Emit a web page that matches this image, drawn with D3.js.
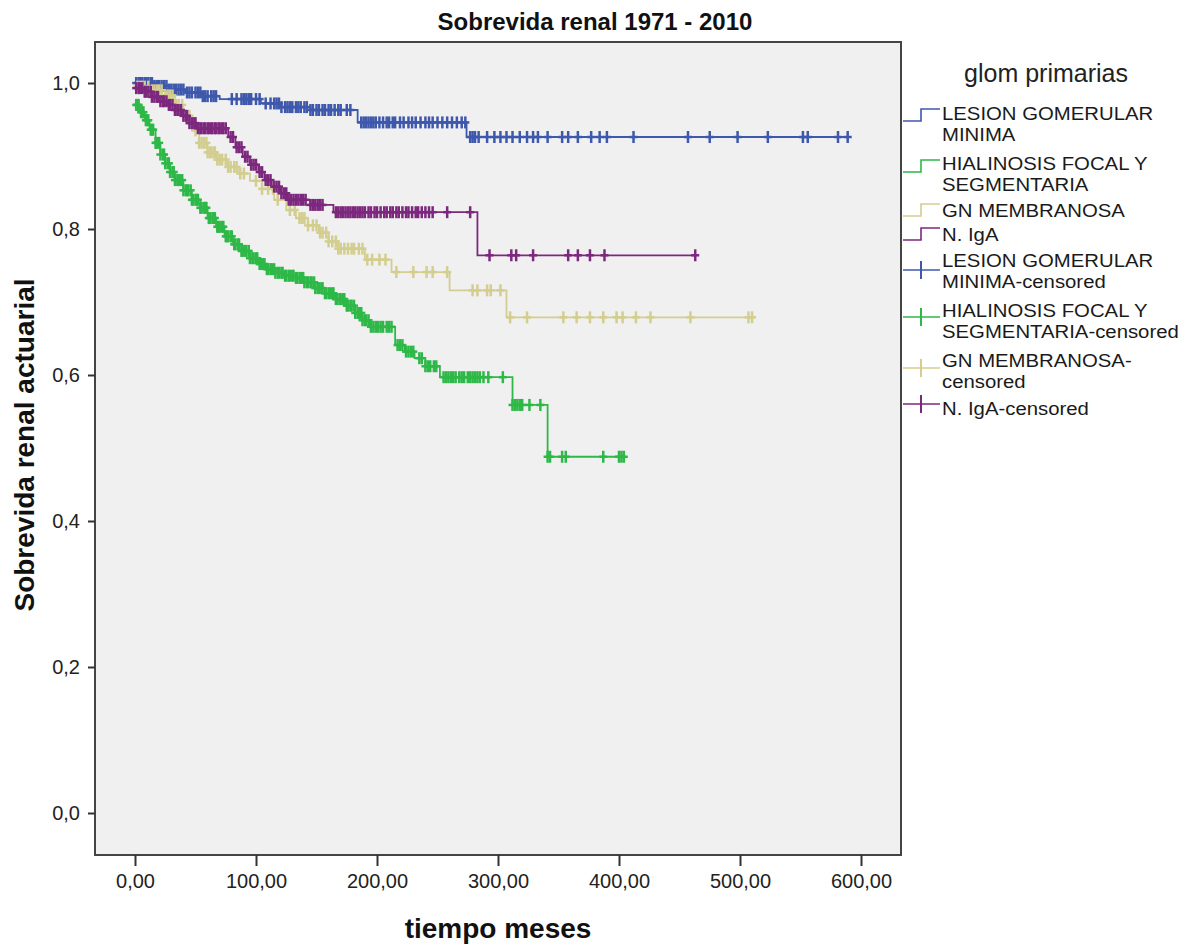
<!DOCTYPE html>
<html><head><meta charset="utf-8">
<script src="https://cdn.jsdelivr.net/npm/d3@7"></script>
<style>
html,body{margin:0;padding:0;background:#fff;}
svg text{font-family:Arial,"Liberation Sans",sans-serif;}
</style></head>
<body>
<script>
// ---------- DATA ----------
const chartTitle = "Sobrevida renal 1971 - 2010";
const xTitle = "tiempo meses";
const yTitle = "Sobrevida renal actuarial";
const legendTitle = "glom primarias";
const xTicks = [0,100,200,300,400,500,600];
const yTicks = [0,0.2,0.4,0.6,0.8,1.0];
const groups = ["LESION GOMERULAR MINIMA","HIALINOSIS FOCAL Y SEGMENTARIA","GN MEMBRANOSA","N. IgA"];
const groupColors = ["#3E58AC","#2EB848","#D3CE90","#7C287D"];

// [time, survival] after each event
const stepsLesion = [[0,1.0],[15,0.996],[28,0.991],[42,0.987],[55,0.982],[70,0.978],[104,0.972],[120,0.967],[145,0.963],[184,0.946],[274,0.926]];
const stepsHialinosis = [[0,0.970],[4,0.960],[8,0.949],[12,0.936],[17,0.918],[21,0.902],[25,0.890],[29,0.878],[33,0.867],[40,0.853],[47,0.840],[54,0.829],[60,0.815],[67,0.803],[74,0.790],[81,0.779],[88,0.770],[95,0.760],[102,0.752],[108,0.745],[116,0.740],[124,0.736],[132,0.733],[140,0.727],[149,0.719],[157,0.712],[165,0.704],[174,0.695],[182,0.685],[188,0.675],[194,0.666],[215,0.641],[223,0.632],[231,0.623],[240,0.612],[252,0.597],[312,0.559],[341,0.488]];
const stepsMembranosa = [[0,0.995],[12,0.990],[25,0.983],[33,0.970],[40,0.955],[47,0.935],[53,0.918],[60,0.905],[68,0.895],[76,0.885],[85,0.876],[95,0.866],[105,0.855],[115,0.840],[125,0.826],[133,0.815],[143,0.805],[152,0.795],[160,0.783],[168,0.773],[190,0.758],[212,0.741],[260,0.716],[307,0.679]];
const stepsIgA = [[0,0.993],[8,0.988],[14,0.981],[21,0.975],[27,0.970],[33,0.963],[39,0.955],[45,0.945],[51,0.938],[77,0.926],[83,0.912],[89,0.899],[95,0.888],[102,0.878],[107,0.867],[113,0.858],[120,0.849],[126,0.840],[145,0.833],[164,0.823],[283,0.764]];

// censored times
const censLesion = [1,3,4,6,8,9,11,13,14,16,18,20,22,24,26,28,30,32,34,36,38,40,43,45,47,50,52,54,56,58,60,63,65,67,80,84,88,90,92,94,96,100,103,108,112,115,117,119,121,124,126,128,130,133,135,137,140,142,145,147,150,152,155,157,160,162,165,168,170,175,178,187,189,191,193,195,197,199,202,205,208,210,213,215,219,222,226,229,232,236,240,243,246,250,254,258,262,266,270,273,277,279,281,284,291,297,302,307,312,318,324,329,333,341,353,358,366,377,384,390,412,457,475,498,523,552,556,581,589];
const censHialinosis = [1,2,3,5,6,7,9,10,11,13,14,15,17,18,20,21,23,24,25,27,28,29,31,32,33,35,36,37,39,40,42,43,44,46,47,48,50,51,52,54,55,57,58,59,61,62,64,65,66,68,69,70,72,73,75,76,77,79,80,82,83,85,86,88,89,91,92,94,95,97,98,100,101,103,104,106,107,109,110,112,113,115,116,118,119,121,122,124,125,127,128,130,131,133,134,136,137,139,140,142,143,145,146,148,149,151,152,154,155,157,158,160,161,163,164,166,167,169,170,172,173,175,176,178,179,181,182,184,185,187,188,190,191,193,195,197,199,201,203,205,208,210,212,217,219,221,224,226,228,230,235,237,240,242,244,247,249,255,257,259,261,263,265,268,270,272,275,277,279,281,283,285,288,292,304,312,314,316,318,320,326,335,341,343,353,356,387,400,402,404];
const censMembranosa = [2,4,6,8,11,14,16,18,20,22,25,27,29,31,34,36,39,42,45,50,53,55,57,59,60,62,63,65,66,68,70,72,75,77,79,82,84,87,90,100,105,110,114,118,128,132,136,138,140,143,147,150,153,155,158,160,163,166,168,170,173,176,179,181,185,188,192,196,202,207,216,230,241,246,258,279,283,291,294,302,310,324,354,365,376,387,398,403,414,426,459,507,510];
const censIgA = [1,3,4,6,8,9,11,13,14,16,18,19,21,23,24,26,28,29,31,33,35,36,38,40,42,43,45,47,49,50,52,54,55,57,58,60,61,63,64,66,67,69,70,72,73,75,79,81,84,86,88,91,93,96,98,100,103,105,108,110,112,115,117,119,121,123,125,127,129,131,133,135,137,139,141,145,147,149,151,153,155,166,168,170,172,174,176,178,180,182,184,186,188,190,193,195,198,200,203,206,208,211,213,216,218,221,224,226,229,232,234,237,240,243,246,258,277,293,311,315,329,358,366,376,388,463];

const legendLabels = [
  ["LESION GOMERULAR","MINIMA"],
  ["HIALINOSIS FOCAL Y","SEGMENTARIA"],
  ["GN MEMBRANOSA"],
  ["N. IgA"],
  ["LESION GOMERULAR","MINIMA-censored"],
  ["HIALINOSIS FOCAL Y","SEGMENTARIA-censored"],
  ["GN MEMBRANOSA-","censored"],
  ["N. IgA-censored"]
];

// ---------- LAYOUT ----------
const W = 1201, H = 945;
const frame = {left:95, right:901, top:42, bottom:855};
const svg = d3.select("body").append("svg").attr("width",W).attr("height",H);

const x = d3.scaleLinear().domain([0,600]).range([135,861]);
const y = d3.scaleLinear().domain([0,1]).range([813,83]);

svg.append("rect").attr("x",frame.left).attr("y",frame.top)
  .attr("width",frame.right-frame.left).attr("height",frame.bottom-frame.top)
  .attr("fill","#F0F0F0").attr("stroke","#444").attr("stroke-width",2);

// axes
const yAxis = d3.axisLeft(y).tickValues(yTicks).tickSize(7).tickPadding(8)
  .tickFormat(d=>d3.format(".1f")(d).replace(".",","));
const gy = svg.append("g").attr("transform",`translate(${frame.left},0)`).call(yAxis);
gy.select(".domain").remove();
gy.selectAll(".tick line").attr("stroke","#333").attr("stroke-width",2);
gy.selectAll(".tick text").attr("font-size",20).attr("fill","#222").attr("font-family","Arial, 'Liberation Sans', sans-serif");

const xAxis = d3.axisBottom(x).tickValues(xTicks).tickSize(11).tickPadding(8)
  .tickFormat(d=>d3.format(".2f")(d).replace(".",","));
const gx = svg.append("g").attr("transform",`translate(0,${frame.bottom})`).call(xAxis);
gx.select(".domain").remove();
gx.selectAll(".tick line").attr("stroke","#333").attr("stroke-width",2);
gx.selectAll(".tick text").attr("font-size",20).attr("fill","#222").attr("font-family","Arial, 'Liberation Sans', sans-serif");

// titles
svg.append("text").attr("x",595).attr("y",30).attr("text-anchor","middle")
  .attr("font-size",24).attr("font-weight","bold").attr("fill","#111").text(chartTitle);
svg.append("text").attr("x",498).attr("y",938).attr("text-anchor","middle")
  .attr("font-size",28).attr("font-weight","bold").attr("fill","#111").text(xTitle);
svg.append("text").attr("transform","translate(34,445) rotate(-90)").attr("text-anchor","middle")
  .attr("font-size",28).attr("font-weight","bold").attr("fill","#111").text(yTitle);

// curves
const series = [
  {steps:stepsLesion, cens:censLesion, color:groupColors[0]},
  {steps:stepsHialinosis, cens:censHialinosis, color:groupColors[1]},
  {steps:stepsMembranosa, cens:censMembranosa, color:groupColors[2]},
  {steps:stepsIgA, cens:censIgA, color:groupColors[3]}
];
const bis = d3.bisector(d=>d[0]).right;
const line = d3.line().x(d=>x(d[0])).y(d=>y(d[1])).curve(d3.curveStepAfter);
const plot = svg.append("g");
series.forEach(s=>{
  const end = Math.max(d3.max(s.cens), s.steps[s.steps.length-1][0]);
  const pts = s.steps.concat([[end, s.steps[s.steps.length-1][1]]]);
  plot.append("path").attr("d",line(pts)).attr("fill","none")
    .attr("stroke",s.color).attr("stroke-width",1.8);
  const g = plot.append("g");
  s.cens.forEach(t=>{
    const sv = s.steps[Math.max(0,bis(s.steps,t)-1)][1];
    const cx = x(t), cy = y(sv);
    g.append("line").attr("x1",cx).attr("x2",cx).attr("y1",cy-6).attr("y2",cy+6)
      .attr("stroke",s.color).attr("stroke-width",2.5);
    g.append("line").attr("x1",cx-4).attr("x2",cx+4).attr("y1",cy).attr("y2",cy)
      .attr("stroke",s.color).attr("stroke-width",2.5);
  });
});

// legend
const lg = svg.append("g");
lg.append("text").attr("x",1046).attr("y",82).attr("text-anchor","middle")
  .attr("font-size",25).attr("fill","#222").text(legendTitle);
const itemY = [120,170,217,241,267,317,367,415]; // baseline of first line
const symY = [115,166,210,234,270,317,368,404];
legendLabels.forEach((lines,i)=>{
  const c = groupColors[i%4];
  const sy = symY[i];
  if(i<4){
    lg.append("path").attr("d",`M903,${sy+6}H921V${sy-6}H940`).attr("fill","none")
      .attr("stroke",c).attr("stroke-width",1.6);
  } else {
    lg.append("line").attr("x1",903).attr("x2",940).attr("y1",sy).attr("y2",sy).attr("stroke",c).attr("stroke-width",1.6);
    lg.append("line").attr("x1",921).attr("x2",921).attr("y1",sy-9).attr("y2",sy+9).attr("stroke",c).attr("stroke-width",2);
  }
  lines.forEach((t,j)=>{
    lg.append("text")
      .attr("transform",`translate(942,${itemY[i]+j*20.5}) scale(1.13,1)`)
      .attr("font-size",18).attr("fill","#1a1a1a").text(t);
  });
});
</script>
</body></html>
